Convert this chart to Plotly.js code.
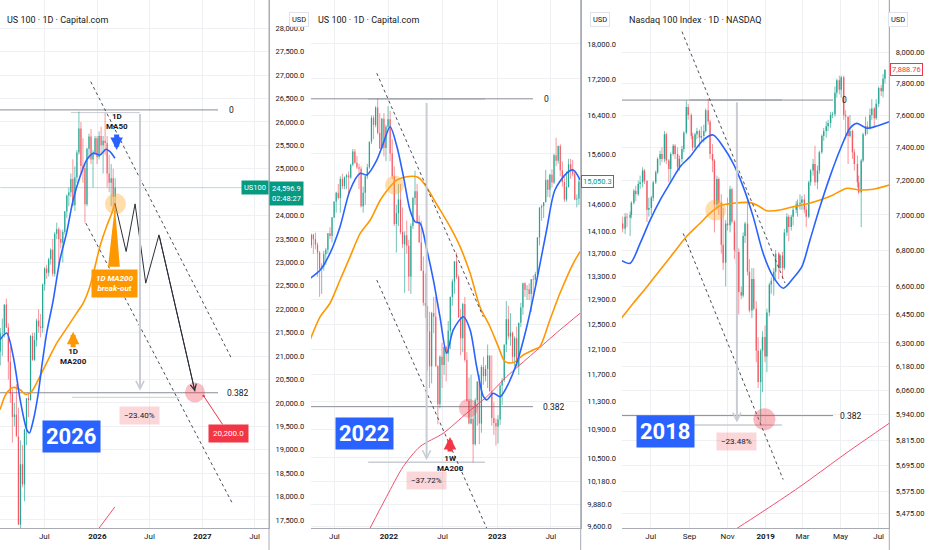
<!DOCTYPE html>
<html><head><meta charset="utf-8">
<script src="https://cdn.plot.ly/plotly-3.0.1.min.js"></script>
<style>html,body{margin:0;padding:0;background:#fff;}#chart{width:932px;height:550px;}</style>
</head><body><div id="chart"></div>
<script>
// ================= PANEL 1 : US 100 · 1D · Capital.com (weekly candles) =================
const p1Dates = ['2025-01-29','2025-02-05','2025-02-12','2025-02-19','2025-02-26','2025-03-05','2025-03-12','2025-03-19','2025-03-26','2025-04-02','2025-04-09','2025-04-16','2025-04-23','2025-04-30','2025-05-07','2025-05-14','2025-05-21','2025-05-28','2025-06-04','2025-06-11','2025-06-18','2025-06-25','2025-07-02','2025-07-09','2025-07-16','2025-07-23','2025-07-30','2025-08-06','2025-08-13','2025-08-20','2025-08-27','2025-09-03','2025-09-10','2025-09-17','2025-09-24','2025-10-01','2025-10-08','2025-10-15','2025-10-22','2025-10-29','2025-11-05','2025-11-12','2025-11-19','2025-11-26','2025-12-03','2025-12-10','2025-12-17','2025-12-24','2025-12-31','2026-01-07','2026-01-14','2026-01-21','2026-01-28','2026-02-04','2026-02-11','2026-02-18','2026-02-25','2026-03-04'];
const p1Open  = [21100,21480,21490,22100,21610,20880,20200,19700,19750,19280,17400,18690,18260,19430,20100,20060,21430,20920,21340,21760,21630,21600,22530,22870,22780,23070,23270,22760,23610,23710,23500,23420,23650,24090,24430,24500,24780,24220,24820,25350,25860,25060,25010,24240,25430,25690,25200,25350,25650,25250,25700,25500,25600,25550,24900,24700,24800,24400];
const p1High  = [21600,21800,22100,22230,21700,21200,20300,20000,20400,19900,19200,19100,19450,20100,20200,21450,21500,21500,21800,22000,21900,22550,22900,22950,23100,23300,23500,23650,23850,23750,23700,23700,24100,24450,24600,24900,25200,25050,25400,26220,26000,25650,25100,25450,25750,25850,25400,25700,25700,25800,25900,25700,26190,25700,25300,25100,25000,24800];
const p1Low   = [20800,21000,21400,21600,20500,20000,19150,19500,19300,17400,16540,18200,17900,19100,19700,20050,20900,20900,21200,21500,21400,21500,22400,22650,22700,22950,22700,22700,23500,22950,23300,23000,23600,23950,24200,24400,24200,24100,24700,25300,24900,24700,23850,24200,25200,25100,24600,25300,25100,25200,25300,24900,25300,24600,24500,24200,24100,24050];
const p1Close = [21480,21490,22100,21610,20880,20200,19700,19750,19280,17400,18690,18260,19430,20100,20060,21430,20920,21340,21760,21630,21600,22530,22870,22780,23070,23270,22760,23610,23710,23500,23420,23650,24090,24430,24500,24780,24220,24820,25350,25860,25060,25010,24240,25430,25690,25200,25350,25650,25250,25700,25500,25600,25550,24900,24700,24800,24400,24596.9];
const p1Ma50Dates  = ['2025-01-28','2025-02-20','2025-03-15','2025-04-08','2025-05-01','2025-05-10','2025-05-24','2025-06-10','2025-06-22','2025-07-09','2025-08-01','2025-08-24','2025-09-16','2025-10-09','2025-11-02','2025-11-25','2025-12-18','2026-01-10','2026-01-31','2026-02-14','2026-03-03'];
const p1Ma50       = [21348,21491,20992,20068,19428,19357,19641,20211,20778,21491,22202,23055,23625,24336,24833,25190,25333,25296,25418,25367,25226];
const p1Ma200Dates = ['2025-01-28','2025-02-20','2025-03-15','2025-04-08','2025-04-28','2025-05-18','2025-06-04','2025-06-27','2025-07-20','2025-08-13','2025-09-05','2025-09-28','2025-10-21','2025-11-13','2025-12-06','2025-12-24','2026-01-10','2026-02-02','2026-02-20','2026-03-03'];
const p1Ma200      = [19855,20211,20330,20281,20180,20245,20424,20708,20992,21278,21491,21705,21918,22132,22486,22913,23339,23766,24052,24266];
const p1WeekMaDates = ['2025-12-20','2026-03-03'];
const p1WeekMa      = [17180,17780];
const p1ProjDates = ['2026-03-03','2026-04-11','2026-05-12','2026-06-18','2026-08-03','2026-12-06'];
const p1Proj      = [24266,23233,24250,22558,23589,20245];
const p1ChanUpDates = ['2025-12-09','2027-04-13'], p1ChanUp = [26860,20936];
const p1ChanLoDates = ['2025-11-22','2027-04-13'], p1ChanLo = [23839,17876];
const p1FibDates = ['2025-01-28','2027-02-24'], p1Fib0 = 26257, p1Fib382 = 20217;
const p1Last = 24596.9;
const p1YTicks = [28000,27500,27000,26500,26000,25500,25000,24000,23500,23000,22500,22000,21500,21000,20500,20000,19500,19000,18500,18000,17500];
const p1XTicks = ['2025-07-01','2026-01-01','2026-07-01','2027-01-01','2027-07-01'];
const p1XLabels = ['Jul','<b>2026</b>','Jul','<b>2027</b>','Jul'];

// ================= PANEL 2 : US 100 · 1D · Capital.com, 2021-2023 (weekly candles) =================
const p2Dates = ['2021-04-14','2021-04-21','2021-04-28','2021-05-05','2021-05-12','2021-05-19','2021-05-26','2021-06-02','2021-06-09','2021-06-16','2021-06-23','2021-06-30','2021-07-07','2021-07-14','2021-07-21','2021-07-28','2021-08-04','2021-08-11','2021-08-18','2021-08-25','2021-09-01','2021-09-08','2021-09-15','2021-09-22','2021-09-29','2021-10-06','2021-10-13','2021-10-20','2021-10-27','2021-11-03','2021-11-10','2021-11-17','2021-11-24','2021-12-01','2021-12-08','2021-12-15','2021-12-22','2021-12-29',
'2022-01-05','2022-01-12','2022-01-19','2022-01-26','2022-02-02','2022-02-09','2022-02-16','2022-02-23','2022-03-02','2022-03-09','2022-03-16','2022-03-23','2022-03-30','2022-04-06','2022-04-13','2022-04-20','2022-04-27','2022-05-04','2022-05-11','2022-05-18','2022-05-25','2022-06-01','2022-06-08','2022-06-15','2022-06-22','2022-06-29','2022-07-06','2022-07-13','2022-07-20','2022-07-27','2022-08-03','2022-08-10','2022-08-17','2022-08-24','2022-08-31','2022-09-07','2022-09-14','2022-09-21','2022-09-28','2022-10-05','2022-10-12','2022-10-19','2022-10-26','2022-11-02','2022-11-09','2022-11-16','2022-11-23','2022-11-30','2022-12-07','2022-12-14','2022-12-21','2022-12-28',
'2023-01-04','2023-01-11','2023-01-18','2023-01-25','2023-02-01','2023-02-08','2023-02-15','2023-02-22','2023-03-01','2023-03-08','2023-03-15','2023-03-22','2023-03-29','2023-04-05','2023-04-12','2023-04-19','2023-04-26','2023-05-03','2023-05-10','2023-05-17','2023-05-24','2023-05-31','2023-06-07','2023-06-14','2023-06-21','2023-06-28','2023-07-05','2023-07-12','2023-07-19','2023-07-26','2023-08-02','2023-08-09','2023-08-16','2023-08-23','2023-08-30','2023-09-06','2023-09-13','2023-09-20','2023-09-27','2023-10-04'];
const p2Open = [13850,14040,13960,13860,13720,13430,13470,13690,13770,14070,14020,14360,14660,14830,14730,15100,14960,15130,15170,15130,15380,15650,15420,15330,15300,14570,14830,15150,15330,15850,16350,16200,16570,16030,15710,16330,15720,16160,
16320,15610,15150,14240,14440,14700,14090,13870,14030,13840,13300,14200,14730,14860,14280,13900,13400,12850,12800,12380,11830,12680,12620,11830,11260,11980,11850,12130,12030,12390,12950,13210,13560,13290,12610,12270,12830,11930,11310,10980,11050,10690,11320,11600,10980,11820,11680,11790,12000,11450,11060,10990,
10940,11040,11540,11620,12170,12580,12300,12360,11980,12270,11830,12520,12770,13180,13070,13080,13000,13250,13240,13340,13990,14550,14570,14650,15080,14890,15180,15030,15570,15460,15760,15270,15040,14700,14940,15390,15260,15200,14700,14720];
const p2High = [14060,14060,14080,13900,13750,13530,13750,13800,14070,14180,14370,14660,14850,15000,15150,15200,15150,15200,15250,15400,15700,15700,15560,15400,15350,14950,15160,15400,15850,16400,16400,16600,16765,16450,16350,16450,16200,16600,
16500,15900,15350,14600,15000,15000,14550,14100,14300,13950,14250,14750,15260,15000,14400,14300,13650,13350,12800,12700,12700,12950,12950,11850,12000,12200,12150,12150,12550,12950,13250,13570,13720,13330,12750,12850,12950,12050,11660,11700,11230,11350,11600,11700,11850,11980,11850,12170,12000,12000,11290,11050,
11100,11560,11650,12170,12880,12800,12680,12380,12300,12460,12520,12850,13190,13200,13150,13180,13250,13320,13380,14000,14550,14600,14650,15280,15100,15200,15290,15600,15930,15770,15800,15450,15150,15250,15500,15500,15480,15270,14800,15100];
const p2Low = [13800,13700,13780,13300,12950,13000,13400,13500,13700,13960,13900,14350,14450,14700,14450,14900,14900,14900,14800,15100,15350,15400,15300,14900,14550,14450,14600,15100,15300,15800,15900,16150,16000,15700,15700,15550,15450,16100,
15450,15100,14200,13720,14200,14050,13800,13020,13700,13050,13000,14150,14600,14250,13900,13400,12800,12600,11770,11500,11570,12350,11820,10970,11200,11500,11700,11600,11900,12100,12800,13000,13250,12600,12000,12050,11900,11300,10970,10970,10440,10670,10950,10690,10850,11550,11600,11500,11450,10950,10820,10670,
10700,10960,11250,11590,12050,12250,12150,11900,11830,11830,11700,12450,12650,12950,12900,12900,12700,12950,13150,13280,13850,14300,14350,14650,14750,14740,14930,15000,15350,15400,15150,14950,14650,14660,14930,15100,15150,14690,14550,14600];
const p2Close = [14040,13960,13860,13720,13430,13470,13690,13770,14070,14020,14360,14660,14830,14730,15100,14960,15130,15170,15130,15380,15650,15420,15330,15300,14570,14830,15150,15330,15850,16350,16200,16570,16030,15710,16330,15720,16160,16320,
15610,15150,14240,14440,14700,14090,13870,14030,13840,13300,14200,14730,14860,14280,13900,13400,12850,12800,12380,11830,12680,12620,11830,11260,11980,11850,12130,12030,12390,12950,13210,13560,13290,12610,12270,12830,11930,11310,10980,11050,10690,11320,11600,10980,11820,11680,11790,12000,11450,11060,10990,10940,
11040,11540,11620,12170,12580,12300,12360,11980,12270,11830,12520,12770,13180,13070,13080,13000,13250,13240,13340,13990,14550,14570,14650,15080,14890,15180,15030,15570,15460,15760,15270,15040,14700,14940,15390,15260,15200,14700,14720,15050.3];
const p2Ma50Dates = ['2021-04-10','2021-05-14','2021-06-16','2021-07-20','2021-08-23','2021-09-26','2021-10-18','2021-11-21','2021-12-13','2022-01-05','2022-01-28','2022-02-19','2022-03-13','2022-03-30','2022-04-16','2022-05-09','2022-05-31','2022-06-22','2022-07-15','2022-08-06','2022-09-09','2022-10-02','2022-10-24','2022-11-16','2022-11-27','2022-12-19','2023-01-11','2023-02-03','2023-03-08','2023-04-11','2023-05-15','2023-06-17','2023-07-15','2023-08-23','2023-09-15','2023-10-08'];
const p2Ma50 = [13266,13410,13705,14189,14884,15210,15178,15476,15817,16162,15746,15144,14500,14281,14252,13765,13237,12620,12033,12404,12620,12404,11824,11372,11324,11423,11372,11522,11876,12456,13237,14128,14884,15210,15277,15079];
const p2Ma200Dates = ['2021-04-10','2021-05-14','2021-06-16','2021-07-20','2021-08-23','2021-09-26','2021-10-30','2021-12-03','2022-01-05','2022-01-28','2022-03-02','2022-04-09','2022-05-07','2022-06-09','2022-07-26','2022-08-29','2022-10-02','2022-11-04','2022-12-08','2023-01-05','2023-01-28','2023-02-25','2023-03-30','2023-05-03','2023-05-25','2023-06-28','2023-08-01','2023-09-15','2023-10-08'];
const p2Ma200 = [12244,12620,12843,13237,13646,14067,14313,14691,14947,15079,15144,15131,14947,14629,14189,13825,13354,12785,12456,12137,11902,11888,12006,12085,12137,12566,13010,13529,13736];
const p2WeekMaDates = ['2021-10-29','2021-12-24','2022-02-18','2022-04-16','2022-07-03','2022-09-20','2022-11-27','2023-02-02','2023-05-03','2023-08-01','2023-10-08'];
const p2WeekMa = [9581,9983,10381,10656,10843,11129,11372,11671,12033,12404,12676];
const p2ChanUpDates = ['2021-11-21','2022-11-15'], p2ChanUp = [17327,12620];
const p2ChanLoDates = ['2021-11-21','2022-11-27'], p2ChanLo = [13237,9581];
const p2FibDates = ['2021-04-13','2023-05-02'], p2Fib0 = 16760, p2Fib382 = 11225;
const p2Last = 15050.3;
const p2YTicks = [18000,17200,16400,15600,14600,14100,13700,13300,12900,12500,12100,11700,11300,10900,10500,10180,9880,9600];
const p2XTicks = ['2021-07-01','2022-01-01','2022-07-01','2023-01-01','2023-07-01'];
const p2XLabels = ['Jul','<b>2022</b>','Jul','<b>2023</b>','Jul'];

// ================= PANEL 3 : Nasdaq 100 Index · 1D · NASDAQ, 2018-2019 (half-week candles) =================
const p3Dates = ['2018-05-17','2018-05-21','2018-05-24','2018-05-29','2018-05-31','2018-06-04','2018-06-07','2018-06-11','2018-06-14','2018-06-18','2018-06-21','2018-06-25','2018-06-28','2018-07-02','2018-07-05','2018-07-09','2018-07-12','2018-07-16','2018-07-19','2018-07-23','2018-07-26','2018-07-30','2018-08-02','2018-08-06','2018-08-09','2018-08-13','2018-08-16','2018-08-20','2018-08-23','2018-08-27','2018-08-30','2018-09-04','2018-09-06','2018-09-10','2018-09-13','2018-09-17','2018-09-20','2018-09-24','2018-09-27','2018-10-01','2018-10-04','2018-10-08','2018-10-11','2018-10-15','2018-10-18','2018-10-22','2018-10-25','2018-10-29','2018-11-01','2018-11-05','2018-11-08','2018-11-12','2018-11-15','2018-11-19','2018-11-23','2018-11-26','2018-11-29','2018-12-03','2018-12-06','2018-12-10','2018-12-13','2018-12-17','2018-12-20','2018-12-24','2018-12-27','2018-12-31',
'2019-01-03','2019-01-07','2019-01-10','2019-01-14','2019-01-17','2019-01-22','2019-01-24','2019-01-28','2019-01-31','2019-02-04','2019-02-07','2019-02-11','2019-02-14','2019-02-19','2019-02-21','2019-02-25','2019-02-28','2019-03-04','2019-03-07','2019-03-11','2019-03-14','2019-03-18','2019-03-21','2019-03-25','2019-03-28','2019-04-01','2019-04-04','2019-04-08','2019-04-11','2019-04-15','2019-04-18','2019-04-22','2019-04-25','2019-04-29','2019-05-02','2019-05-06','2019-05-09','2019-05-13','2019-05-16','2019-05-20','2019-05-23','2019-05-28','2019-05-30','2019-06-03','2019-06-06','2019-06-10','2019-06-13','2019-06-17','2019-06-20','2019-06-24','2019-06-27','2019-07-01','2019-07-05','2019-07-08','2019-07-11'];
const p3Open = [6950,6920,6990,6985,7000,7070,7140,7120,7180,7190,7260,7200,7030,7040,7100,7190,7250,7330,7360,7330,7480,7320,7270,7360,7410,7360,7280,7330,7390,7490,7650,7600,7470,7400,7480,7500,7460,7470,7500,7630,7560,7360,7320,7060,7210,7070,6830,6730,6950,6940,7150,6960,6800,6790,6570,6550,6880,6950,6680,6470,6640,6480,6260,6100,6260,6330,
6230,6460,6610,6630,6680,6780,6700,6770,6700,6900,6990,6930,6990,7030,7060,7065,7070,7090,7030,6990,7190,7260,7300,7190,7260,7370,7470,7500,7530,7550,7600,7605,7740,7820,7760,7840,7600,7590,7470,7500,7370,7300,7190,7130,7320,7480,7530,7520,7600,7640,7580,7670,7770,7750,7830];
const p3High = [6990,7010,7010,7020,7080,7150,7170,7200,7230,7280,7270,7200,7100,7110,7200,7260,7340,7380,7400,7500,7490,7330,7370,7420,7420,7400,7350,7410,7500,7690,7670,7610,7490,7490,7520,7510,7530,7540,7640,7700,7570,7420,7330,7230,7220,7120,7040,6970,7100,7170,7160,6970,6900,6810,6600,6900,6960,7090,6750,6700,6700,6520,6330,6270,6360,6390,
6480,6620,6650,6700,6800,6790,6780,6790,6920,7010,7000,7000,7050,7080,7090,7120,7110,7120,7050,7200,7270,7330,7410,7290,7380,7480,7520,7560,7570,7620,7620,7780,7830,7850,7850,7850,7630,7590,7600,7510,7390,7350,7230,7330,7490,7590,7560,7640,7700,7650,7700,7780,7790,7860,7890];
const p3Low = [6900,6890,6930,6880,6980,7060,7080,7110,7150,7160,7180,6960,6990,7000,7080,7180,7240,7290,7310,7310,7300,7190,7200,7350,7330,7250,7260,7310,7370,7480,7570,7450,7380,7380,7450,7400,7440,7430,7490,7540,7330,7250,6900,7030,7000,6780,6690,6600,6910,6900,6950,6750,6720,6450,6530,6540,6840,6660,6460,6430,6470,6200,6070,5900,6050,6200,
6150,6440,6560,6550,6640,6640,6690,6640,6690,6880,6850,6910,6940,7010,6990,7030,7030,7010,6930,6980,7170,7230,7170,7150,7240,7360,7440,7460,7500,7520,7580,7590,7710,7730,7710,7570,7450,7300,7460,7330,7260,7160,7120,6930,7310,7470,7480,7510,7570,7530,7570,7650,7720,7710,7800];
const p3Close = [6920,6990,6985,7000,7070,7140,7120,7180,7190,7260,7200,7030,7040,7100,7190,7250,7330,7360,7330,7480,7320,7270,7360,7410,7360,7280,7330,7390,7490,7650,7600,7470,7400,7480,7500,7460,7470,7500,7630,7560,7360,7320,7060,7210,7070,6830,6730,6950,6940,7150,6960,6800,6790,6570,6550,6880,6950,6680,6470,6640,6480,6260,6100,6260,6330,6230,
6460,6610,6630,6680,6780,6700,6770,6700,6900,6990,6930,6990,7030,7060,7065,7070,7090,7030,6990,7190,7260,7300,7190,7260,7370,7470,7500,7530,7550,7600,7605,7740,7820,7760,7840,7600,7590,7470,7500,7370,7300,7190,7130,7320,7480,7530,7520,7600,7640,7580,7670,7770,7750,7830,7888.76];
const p3Ma50Dates = ['2018-05-13','2018-05-29','2018-06-14','2018-06-30','2018-07-16','2018-08-01','2018-08-17','2018-09-02','2018-09-23','2018-10-09','2018-10-25','2018-11-10','2018-11-26','2018-12-12','2018-12-28','2019-01-13','2019-01-29','2019-02-14','2019-02-28','2019-03-13','2019-03-29','2019-04-14','2019-04-30','2019-05-16','2019-05-27','2019-06-12','2019-06-28','2019-07-18'];
const p3Ma50 = [6745,6727,6838,6970,7086,7185,7283,7344,7445,7476,7404,7304,7165,6990,6782,6653,6590,6644,6708,6857,7047,7224,7384,7518,7548,7518,7531,7558];
const p3Ma200Dates = ['2018-05-13','2018-06-03','2018-06-25','2018-07-16','2018-08-06','2018-08-27','2018-09-18','2018-10-04','2018-10-20','2018-11-10','2018-12-07','2018-12-20','2019-01-03','2019-01-24','2019-02-14','2019-03-08','2019-03-29','2019-04-19','2019-05-11','2019-06-01','2019-06-22','2019-07-18'];
const p3Ma200 = [6420,6509,6598,6690,6782,6875,6952,7010,7053,7067,7071,7053,7024,7028,7047,7063,7086,7116,7155,7145,7149,7174];
const p3WeekMaDates = ['2018-11-16','2018-12-23','2019-02-25','2019-05-13','2019-07-18'];
const p3WeekMa = [5408,5475,5597,5760,5897];
const p3ChanUpDates = ['2018-08-20','2019-02-01'], p3ChanUp = [8140,6618];
const p3ChanLoDates = ['2018-08-22','2019-01-29'], p3ChanLo = [6894,5630];
const p3FibDates = ['2018-05-16','2019-04-19'], p3Fib0 = 7694, p3Fib382 = 5934;
const p3Last = 7888.76;
const p3YTicks = [8000,7800,7600,7400,7200,7000,6800,6600,6450,6300,6180,6060,5940,5815,5695,5575,5475];
const p3XTicks = ['2018-07-01','2018-09-01','2018-11-01','2019-01-01','2019-03-01','2019-05-01','2019-07-01'];
const p3XLabels = ['Jul','Sep','Nov','<b>2019</b>','Mar','May','Jul'];

// ================= styling =================
const GRID = '#eef0f4', AXIS = '#a9acb5', TXT = '#131722';
const UP = 'rgba(8,153,129,0.72)', DN = 'rgba(242,54,69,0.66)';
const BLUE = '#2962ff', ORANGE = '#ff9800', PINK = '#f0506e';
const traces = [];

function addCandles(d, o, h, l, c, xa, ya, bw, ww) {
  const g = {u:{wx:[],wy:[],bx:[],by:[]}, d:{wx:[],wy:[],bx:[],by:[]}};
  for (let i = 0; i < d.length; i++) {
    const s = c[i] >= o[i] ? g.u : g.d;
    s.wx.push(d[i], d[i], null); s.wy.push(l[i], h[i], null);
    s.bx.push(d[i], d[i], null); s.by.push(o[i], c[i], null);
  }
  [['u', UP], ['d', DN]].forEach(([k, col]) => {
    traces.push({type:'scatter', mode:'lines', x:g[k].wx, y:g[k].wy, xaxis:xa, yaxis:ya, line:{color:col, width:ww}, hoverinfo:'skip'});
    traces.push({type:'scatter', mode:'lines', x:g[k].bx, y:g[k].by, xaxis:xa, yaxis:ya, line:{color:col, width:bw}, hoverinfo:'skip'});
  });
}
function addLine(x, y, xa, ya, color, width, dash, shape) {
  traces.push({type:'scatter', mode:'lines', x, y, xaxis:xa, yaxis:ya, hoverinfo:'skip',
    line:{color, width, dash:dash || 'solid', shape:shape || 'linear', smoothing:0.8}});
}
function addDot(x, y, xa, ya, size, color) {
  traces.push({type:'scatter', mode:'markers', x:[x], y:[y], xaxis:xa, yaxis:ya, hoverinfo:'skip',
    marker:{size, color, line:{width:0}}});
}
const DASH = '3px,3px';
const FIB = '#8a8d96', MEAS = '#c9ccd3';

// ---- panel 1 ----
addLine(p1FibDates, [p1Fib0, p1Fib0], 'x', 'y', FIB, 1);
addLine(p1FibDates, [p1Fib382, p1Fib382], 'x', 'y', FIB, 1);
addLine(['2025-10-01','2026-05-29'], [26200, 26200], 'x', 'y', MEAS, 1);
addLine(['2025-10-05','2026-10-15'], [20120, 20120], 'x', 'y', MEAS, 1);
addLine([p1Dates[0], '2027-08-20'], [p1Last, p1Last], 'x', 'y', 'rgba(8,153,129,0.3)', 1);
addCandles(p1Dates, p1Open, p1High, p1Low, p1Close, 'x', 'y', 1.3, 0.8);
addLine(p1Ma200Dates, p1Ma200, 'x', 'y', ORANGE, 1.6, null, 'spline');
addLine(p1Ma50Dates, p1Ma50, 'x', 'y', BLUE, 1.6, null, 'spline');
addLine(p1WeekMaDates, p1WeekMa, 'x', 'y', PINK, 1);
addLine(p1ChanUpDates, p1ChanUp, 'x', 'y', '#4a4d55', 1, DASH);
addLine(p1ChanLoDates, p1ChanLo, 'x', 'y', '#4a4d55', 1, DASH);
addLine(p1ProjDates, p1Proj, 'x', 'y', '#2a2e39', 1);
addDot('2026-03-05', 24251, 'x', 'y', 21, 'rgba(255,167,38,0.38)');
addDot('2026-12-06', 20224, 'x', 'y', 20, 'rgba(242,54,69,0.32)');
traces.push({type:'scatter', mode:'lines', fill:'toself', fillcolor:ORANGE, xaxis:'x', yaxis:'y', hoverinfo:'skip',
  x:['2026-03-03','2026-02-07','2026-03-20','2026-03-03'], y:[24200,22906,22906,24200], line:{width:0, color:ORANGE}});

// ---- panel 2 ----
addLine(p2FibDates, [p2Fib0, p2Fib0], 'x2', 'y2', FIB, 1);
addLine(p2FibDates, [p2Fib382, p2Fib382], 'x2', 'y2', FIB, 1);
addLine(['2021-10-23','2022-11-21'], [p2Fib0, p2Fib0], 'x2', 'y2', '#a5a8b0', 1.5);
addLine(['2021-10-23','2022-11-21'], [10440, 10440], 'x2', 'y2', MEAS, 1.5);
addCandles(p2Dates, p2Open, p2High, p2Low, p2Close, 'x2', 'y2', 1.3, 0.8);
addLine(p2WeekMaDates, p2WeekMa, 'x2', 'y2', PINK, 1, null, 'spline');
addLine(p2Ma200Dates, p2Ma200, 'x2', 'y2', ORANGE, 1.6, null, 'spline');
addLine(p2Ma50Dates, p2Ma50, 'x2', 'y2', BLUE, 1.6, null, 'spline');
addLine(p2ChanUpDates, p2ChanUp, 'x2', 'y2', '#4a4d55', 1, DASH);
addLine(p2ChanLoDates, p2ChanLo, 'x2', 'y2', '#4a4d55', 1, DASH);
addDot('2022-01-20', 14981, 'x2', 'y2', 19, 'rgba(255,167,38,0.38)');
addDot('2022-09-26', 11201, 'x2', 'y2', 19, 'rgba(242,54,69,0.3)');

// ---- panel 3 ----
addLine(p3FibDates, [p3Fib0, p3Fib0], 'x3', 'y3', FIB, 1);
addLine(p3FibDates, [p3Fib382, p3Fib382], 'x3', 'y3', FIB, 1);
addLine(['2018-09-02','2019-01-27'], [p3Fib0, p3Fib0], 'x3', 'y3', '#a5a8b0', 1.5);
addLine(['2018-09-02','2019-01-27'], [5888, 5888], 'x3', 'y3', MEAS, 1.5);
addCandles(p3Dates, p3Open, p3High, p3Low, p3Close, 'x3', 'y3', 1.5, 0.8);
addLine(p3WeekMaDates, p3WeekMa, 'x3', 'y3', PINK, 1, null, 'spline');
addLine(p3Ma200Dates, p3Ma200, 'x3', 'y3', ORANGE, 1.6, null, 'spline');
addLine(p3Ma50Dates, p3Ma50, 'x3', 'y3', BLUE, 1.6, null, 'spline');
addLine(p3ChanUpDates, p3ChanUp, 'x3', 'y3', '#4a4d55', 1, DASH);
addLine(p3ChanLoDates, p3ChanLo, 'x3', 'y3', '#4a4d55', 1, DASH);
addDot('2018-10-13', 7028, 'x3', 'y3', 21, 'rgba(255,167,38,0.38)');
addDot('2018-12-30', 5916, 'x3', 'y3', 22, 'rgba(242,54,69,0.35)');

// ================= axes =================
const W = 932, H = 528;
function fmt(v, dec) { return v.toLocaleString('en-US', {minimumFractionDigits:dec, maximumFractionDigits:dec}); }
function xAxis(domain, range, tv, tt, yname) {
  return {domain, range, type:'date', tickvals:tv, ticktext:tt, showgrid:true, gridcolor:GRID, zeroline:false,
    showline:true, linecolor:AXIS, linewidth:1, ticks:'', tickfont:{size:8, color:TXT}, anchor:yname, fixedrange:true};
}
function yAxis(xname, type, range, tv, dec) {
  return {anchor:xname, side:'right', type, range, tickvals:tv, ticktext:tv.map(v => fmt(v, dec)), showgrid:true,
    gridcolor:GRID, zeroline:false, showline:true, linecolor:AXIS, linewidth:1, ticks:'', ticklabelstandoff:4,
    tickfont:{size:7.5, color:TXT}, fixedrange:true, domain:[0,1]};
}

// annotations on log axes take log10 positions
const isLog = r => r === 'y2' || r === 'y3';
const pos = (r, v) => isLog(r) ? Math.log10(v) : v;
const ann = [];
function T(xref, yref, x, y, text, o) { ann.push(Object.assign({xref, yref, x, y:pos(yref, y), text, showarrow:false}, o || {})); }
function A(xref, yref, x, y, ax, ay, color, width, head, size) {
  ann.push({xref, yref, x, y:pos(yref, y), ax, ay:pos(yref, ay), axref:xref, ayref:yref, text:'', showarrow:true, arrowcolor:color,
    arrowwidth:width, arrowhead:head, arrowsize:size, standoff:0, startstandoff:0});
}
// titles & USD boxes
T('paper','paper', 5/W, 1-13/H, 'US 100 · 1D · Capital.com', {xanchor:'left', font:{size:9, color:TXT}});
T('paper','paper', 316/W, 1-13/H, 'US 100 · 1D · Capital.com', {xanchor:'left', font:{size:9, color:TXT}});
T('paper','paper', 627/W, 1-13/H, 'Nasdaq 100 Index · 1D · NASDAQ', {xanchor:'left', font:{size:9, color:TXT}});
[289, 600, 908].forEach(px => T('paper','paper', px/W, 1-12/H, 'USD', {font:{size:7.5, color:TXT}, bgcolor:'#ffffff', bordercolor:'#e0e3eb', borderwidth:1, borderpad:2}));

// panel 1 texts
T('x','y','2027-03-27', p1Fib0, '0', {xanchor:'left', font:{size:8.5, color:TXT}});
T('x','y','2027-03-20', p1Fib382, '0.382', {xanchor:'left', font:{size:8.5, color:TXT}});
A('x','y','2026-05-29', 20260, '2026-05-29', 26200, MEAS, 2, 5, 0.8);
T('x','y','2026-05-29', 19737, '−23.40%', {font:{size:8, color:TXT}, bgcolor:'rgba(242,54,69,0.2)', borderpad:4});
A('x','y', p1ProjDates[5], p1Proj[5], p1ProjDates[4], p1Proj[4], '#2a2e39', 1, 5, 1.2);
ann.push({xref:'x', yref:'y', x:'2027-01-05', y:20150, ax:'2027-04-01', ay:19353, axref:'x', ayref:'y', text:'20,200.0',
  showarrow:true, arrowcolor:'#f23645', arrowwidth:1, arrowhead:6, arrowsize:0.6, standoff:0,
  font:{size:8, color:'#ffffff'}, bgcolor:'#f23645', borderpad:4});
T('x','y','2025-10-02', 19278, '<b>2026</b>', {font:{size:22, color:'#ffffff'}, bgcolor:BLUE, borderpad:3});
T('x','y','2026-02-28', 22553, '<b><i>1D MA200<br>break-out</i></b>', {font:{size:8, color:'#ffffff'}, bgcolor:ORANGE, borderpad:4});
A('x','y','2025-10-09', 21519, '2025-10-09', 21156, ORANGE, 5, 2, 0.5);
T('x','y','2025-10-09', 20990, '<b>1D<br>MA200</b>', {font:{size:8, color:TXT}});
T('x','y','2026-03-09', 26000, '<b>1D<br>MA50</b>', {font:{size:8, color:TXT}});
A('x','y','2026-03-09', 25403, '2026-03-09', 25766, BLUE, 5, 2, 0.5);
T('paper','y', 269/W, p1Last, 'US100', {xanchor:'right', font:{size:7.5, color:'#ffffff'}, bgcolor:'#089981', borderpad:2});
T('paper','y', 269/W, p1Last, '24,596.9<br>02:48:27', {xanchor:'left', yanchor:'top', yshift:7, align:'left', font:{size:7.5, color:'#ffffff'}, bgcolor:'#089981', borderpad:2});

// panel 2 texts
T('x2','y2','2023-05-31', p2Fib0, '0', {xanchor:'left', font:{size:8.5, color:TXT}});
T('x2','y2','2023-05-29', p2Fib382, '0.382', {xanchor:'left', font:{size:8.5, color:TXT}});
A('x2','y2','2022-05-08', 10470, '2022-05-08', 16700, MEAS, 2, 5, 0.8);
T('x2','y2','2022-05-08', 10202, '−37.72%', {font:{size:8, color:TXT}, bgcolor:'rgba(242,54,69,0.2)', borderpad:4});
T('x2','y2','2021-10-12', 10836, '<b>2022</b>', {font:{size:22, color:'#ffffff'}, bgcolor:BLUE, borderpad:3});
A('x2','y2','2022-07-26', 10791, '2022-07-26', 10566, '#f23645', 5, 2, 0.5);
T('x2','y2','2022-07-26', 10420, '<b>1W<br>MA200</b>', {font:{size:8, color:TXT}});
T('paper','y2', 581/W, p2Last, '15,050.3', {xanchor:'left', font:{size:7.5, color:'#089981'}, bgcolor:'#ffffff', bordercolor:'#089981', borderwidth:1, borderpad:1});

// panel 3 texts
T('x3','y3','2019-04-30', p3Fib0, '0', {xanchor:'left', font:{size:8.5, color:TXT}});
T('x3','y3','2019-04-27', p3Fib382, '0.382', {xanchor:'left', font:{size:8.5, color:TXT}});
A('x3','y3','2018-11-16', 5900, '2018-11-16', 7690, MEAS, 2, 5, 0.8);
T('x3','y3','2018-11-15', 5808, '−23.48%', {font:{size:8, color:TXT}, bgcolor:'rgba(242,54,69,0.2)', borderpad:4});
T('x3','y3','2018-07-24', 5855, '<b>2018</b>', {font:{size:22, color:'#ffffff'}, bgcolor:BLUE, borderpad:3});
T('paper','y3', 890/W, p3Last, '7,888.76', {xanchor:'left', font:{size:7.5, color:'#f23645'}, bgcolor:'#ffffff', bordercolor:'#f23645', borderwidth:1, borderpad:1});

const sepShapes = [269, 580.7, 889.3].map(px => ({type:'line', xref:'paper', yref:'paper', x0:px/W, x1:px/W, y0:-22/H, y1:1, line:{color:AXIS, width:1}}));

const layout = {
  width:932, height:550, margin:{l:0, r:0, t:0, b:22},
  paper_bgcolor:'#ffffff', plot_bgcolor:'#ffffff', showlegend:false, hovermode:false,
  font:{family:'Roboto, "Liberation Sans", Arial, sans-serif', color:TXT, size:8},
  xaxis:  xAxis([0, 269/W], ['2025-01-28','2027-08-20'], p1XTicks, p1XLabels, 'y'),
  yaxis:  yAxis('x', 'linear', [17329, 28604], p1YTicks, 1),
  xaxis2: xAxis([311/W, 580.7/W], ['2021-04-13','2023-10-10'], p2XTicks, p2XLabels, 'y2'),
  yaxis2: yAxis('x2', 'log', [Math.log10(9584.5), Math.log10(19061)], p2YTicks, 1),
  xaxis3: xAxis([622/W, 889.3/W], ['2018-05-16','2019-07-18'], p3XTicks, p3XLabels, 'y3'),
  yaxis3: yAxis('x3', 'log', [Math.log10(5409.6), Math.log10(8354.6)], p3YTicks, 2),
  annotations: ann, shapes: sepShapes
};
Plotly.newPlot('chart', traces, layout, {staticPlot:true, displayModeBar:false});
</script></body></html>
